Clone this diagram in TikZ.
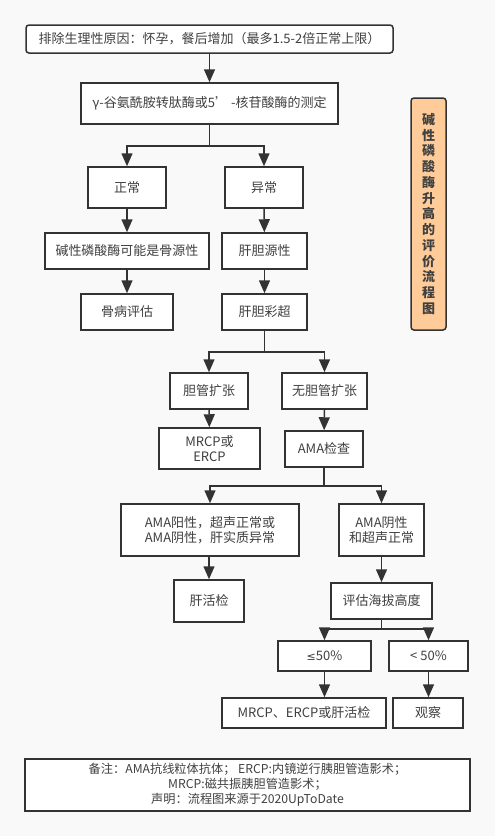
\documentclass[tikz,border=0pt]{standalone}
\usepackage{fontspec}
\setmainfont{Noto Sans CJK SC}
\newfontfamily\symfont{DejaVu Sans}
\usetikzlibrary{positioning,arrows.meta}
\definecolor{linec}{HTML}{333333}
\definecolor{textc}{HTML}{404040}
\definecolor{bgc}{HTML}{F9F9F9}
\definecolor{titlec}{HTML}{FFCC99}

\begin{document}
\begin{tikzpicture}[
  x=1pt, y=-1pt,
  box/.style={draw=linec, fill=white, line width=1.5pt, inner sep=0pt,
              align=center, text=textc, font=\fontsize{13}{15.5}\selectfont},
  arr/.style={-{Triangle[length=13pt,width=11pt]}, draw=linec, line width=1.5pt},
  title/.style={draw=linec, fill=titlec, line width=1.5pt, rounded corners=3pt,
                inner sep=0pt, align=center, text=textc,
                font=\fontsize{13}{15.75}\selectfont\bfseries}
]

  % --- background / page frame ---
  \fill[bgc] (0,0) rectangle (495,836);

  % --- top of the chart ---
  \node[box, rounded corners=3pt, minimum width=367pt, minimum height=28pt] (excl) at (209.5,39)
       {排除生理性原因：怀孕，餐后增加（最多1.5-2倍正常上限）};
  \node[box, minimum width=257pt, minimum height=41pt] (ggt) at (209.5,103.5)
       {γ-谷氨酰胺转肽酶或5’ -核苷酸酶的测定};
  \node[title, minimum width=35pt, minimum height=232pt] (head) at (428.5,214)
       {碱\\性\\磷\\酸\\酶\\升\\高\\的\\评\\价\\流\\程\\图};

  % --- normal / abnormal ---
  \node[box, minimum width=78pt, minimum height=41pt] (norm) at (127,187.5) {正常};
  \node[box, minimum width=78pt, minimum height=41pt] (abn) at (264,187.5) {异常};
  \node[box, minimum width=164pt, minimum height=36pt] (bone) at (127,251) {碱性磷酸酶可能是骨源性};
  \node[box, minimum width=85pt, minimum height=36pt] (liver) at (264.5,251) {肝胆源性};
  \node[box, minimum width=92pt, minimum height=36pt] (boneev) at (127,312) {骨病评估};
  \node[box, minimum width=85pt, minimum height=36pt] (us) at (264.5,312) {肝胆彩超};

  % --- ultrasound result ---
  \node[box, minimum width=78pt, minimum height=36pt] (dil) at (209,391) {胆管扩张};
  \node[box, minimum width=85pt, minimum height=36pt] (nodil) at (324.5,391) {无胆管扩张};
  \node[box, minimum width=101pt, minimum height=41pt] (mrcp) at (209.5,448.5) {MRCP或\\ERCP};
  \node[box, minimum width=78pt, minimum height=36pt] (ama) at (324,449) {AMA检查};

  % --- AMA result ---
  \node[box, minimum width=178pt, minimum height=52pt] (amapos) at (210,530)
       {AMA阳性，超声正常或\\AMA阴性，肝实质异常};
  \node[box, minimum width=85pt, minimum height=52pt] (amaneg) at (381.5,530)
       {AMA阴性\\和超声正常};
  \node[box, minimum width=70pt, minimum height=42pt] (biopsy) at (209,601) {肝活检};
  \node[box, minimum width=101pt, minimum height=36pt] (alt) at (381.5,601) {评估海拔高度};

  % --- altitude ---
  \node[box, minimum width=93pt, minimum height=30pt] (le) at (324.5,656) {{\symfont\fontsize{11}{13}\selectfont ≤}50\%};
  \node[box, minimum width=79pt, minimum height=30pt] (lt) at (428.5,656) {< 50\%};
  \node[box, minimum width=164pt, minimum height=30pt] (final) at (304,713) {MRCP、ERCP或肝活检};
  \node[box, minimum width=70pt, minimum height=30pt] (watch) at (428,713) {观察};

  % --- notes ---
  \node[box, minimum width=445pt, minimum height=52pt, font=\fontsize{12.2}{15}\selectfont] (note) at (247.5,785)
       {备注：AMA抗线粒体抗体； ERCP:内镜逆行胰胆管造影术；\\MRCP:磁共振胰胆管造影术；\\声明：流程图来源于2020UpToDate};

  % --- connectors ---
  \draw[arr] (excl) -- (ggt);
  \draw[arr] (ggt.south) -- ++(0,21) -| (norm.north);
  \draw[arr] (ggt.south) -- ++(0,21) -| (abn.north);
  \draw[arr] (norm) -- (bone);
  \draw[arr] (abn) -- (liver);
  \draw[arr] (bone) -- (boneev);
  \draw[arr] (liver) -- (us);
  \draw[arr] (us.south) -- ++(0,21) -| (dil.north);
  \draw[arr] (us.south) -- ++(0,21) -| (nodil.north);
  \draw[arr] (dil) -- (mrcp);
  \draw[arr] (nodil) -- (ama);
  \draw[arr] (ama.south) -- ++(0,18) -| (amapos.north);
  \draw[arr] (ama.south) -- ++(0,18) -| (amaneg.north);
  \draw[arr] (amapos.south -| biopsy) -- (biopsy);
  \draw[arr] (amaneg) -- (alt);
  \draw[arr] (alt.south) -- ++(0,9) -| (le.north);
  \draw[arr] (alt.south) -- ++(0,9) -| (lt.north);
  \draw[arr] (le.south) -- (le.south |- final.north);
  \draw[arr] (lt.south) -- (lt.south |- watch.north);

\end{tikzpicture}
\end{document}
